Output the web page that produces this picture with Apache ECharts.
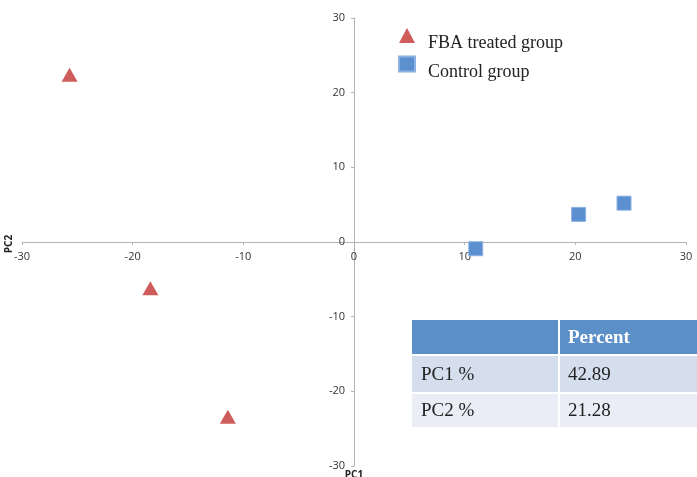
<!DOCTYPE html>
<html>
<head>
<meta charset="utf-8">
<script src="https://cdn.jsdelivr.net/npm/echarts@6/dist/echarts.min.js"></script>
<style>
  html, body { margin: 0; padding: 0; background: #fff; }
  #chart { width: 697px; height: 477px; }
</style>
</head>
<body>
<div id="chart"></div>
<script>
// PCA scores
const fbaPoints = [[-25.7, 22.4], [-18.4, -6.2], [-11.4, -23.4]];
const controlPoints = [[11.0, -0.9], [20.3, 3.7], [24.4, 5.2]];
const seriesNames = ['FBA treated group', 'Control group'];

// variance table
const tableHeader = ['', 'Percent'];
const tableRows = [['PC1 %', '42.89'], ['PC2 %', '21.28']];

const chart = echarts.init(document.getElementById('chart'));

// plot box: x from 22 to 686, y from 18 to 466 -> zero lines cross at (354, 242)
const gridLeft = 22, gridRight = 11, gridTop = 18, gridBottom = 11;

// table drawn with graphic elements
const tblLeft = 412, tblTop = 320, col2 = 559, tblRight = 697;
const rowH = [36, 38, 35];
const rowFill = ['#5b8fc8', '#d4deec', '#eaedf5'];
const tableGraphic = [];
let y = tblTop;
[tableHeader].concat(tableRows).forEach((row, i) => {
  const h = rowH[i];
  tableGraphic.push({
    type: 'rect', shape: { x: tblLeft, y: y, width: col2 - tblLeft - 1, height: h - 2 },
    style: { fill: rowFill[i] }, silent: true
  });
  tableGraphic.push({
    type: 'rect', shape: { x: col2 + 1, y: y, width: tblRight - col2 - 1, height: h - 2 },
    style: { fill: rowFill[i] }, silent: true
  });
  row.forEach((txt, j) => {
    if (!txt) return;
    tableGraphic.push({
      type: 'text',
      x: j === 0 ? tblLeft + 9 : col2 + 9,
      y: y + (h - 2) / 2 + 1,
      style: {
        text: txt,
        fill: i === 0 ? '#fff' : '#222',
        font: (i === 0 ? 'bold ' : '') + '19px "Liberation Serif", serif',
        verticalAlign: 'middle'
      },
      silent: true
    });
  });
  y += h;
});

const option = {
  backgroundColor: '#fff',
  animation: false,
  grid: { left: gridLeft, right: gridRight, top: gridTop, bottom: gridBottom },
  legend: {
    orient: 'vertical',
    left: 393,
    top: 23,
    itemWidth: 16,
    itemHeight: 15,
    itemGap: 3,
    data: [
      { name: seriesNames[0], icon: 'triangle' },
      { name: seriesNames[1], icon: 'rect' }
    ],
    formatter: '{t|{name}}',
    textStyle: {
      rich: {
        t: { fontFamily: 'Liberation Serif', fontSize: 18, color: '#222', padding: [16, 0, 0, 8] }
      }
    }
  },
  xAxis: {
    type: 'value',
    min: -30, max: 30, interval: 10,
    position: 'bottom',
    offset: -224,
    axisLine: { onZero: false, lineStyle: { color: '#b4b4b4' } },
    axisTick: { show: true, length: 3, inside: false, lineStyle: { color: '#b4b4b4' } },
    axisLabel: { color: '#333', fontSize: 11, fontFamily: 'Open Sans', margin: 9 },
    splitLine: { show: false }
  },
  yAxis: {
    type: 'value',
    min: -30, max: 30, interval: 10,
    position: 'left',
    offset: -332,
    axisLine: { onZero: false, lineStyle: { color: '#b4b4b4' } },
    axisTick: { show: true, length: 3, lineStyle: { color: '#b4b4b4' } },
    axisLabel: { color: '#333', fontSize: 11, fontFamily: 'Open Sans', margin: 9 },
    splitLine: { show: false }
  },
  series: [
    {
      name: seriesNames[0],
      type: 'scatter',
      symbol: 'triangle',
      symbolSize: [16, 14],
      data: fbaPoints,
      itemStyle: { color: '#cd5c5a', opacity: 1 }
    },
    {
      name: seriesNames[1],
      type: 'scatter',
      symbol: 'rect',
      symbolSize: 14,
      data: controlPoints,
      itemStyle: { color: '#5b8fcf', borderColor: '#8cb2e3', borderWidth: 1, opacity: 1 }
    }
  ],
  graphic: [
    {
      type: 'text', x: 4, y: 244, rotation: Math.PI / 2,
      style: { text: 'PC2', font: 'bold 10px "Open Sans", sans-serif', fill: '#222', align: 'center', verticalAlign: 'top' },
      silent: true
    },
    {
      type: 'text', x: 354, y: 470,
      style: { text: 'PC1', font: 'bold 10px "Open Sans", sans-serif', fill: '#222', align: 'center', verticalAlign: 'top' },
      silent: true
    }
  ].concat(tableGraphic)
};

chart.setOption(option);
</script>
</body>
</html>
